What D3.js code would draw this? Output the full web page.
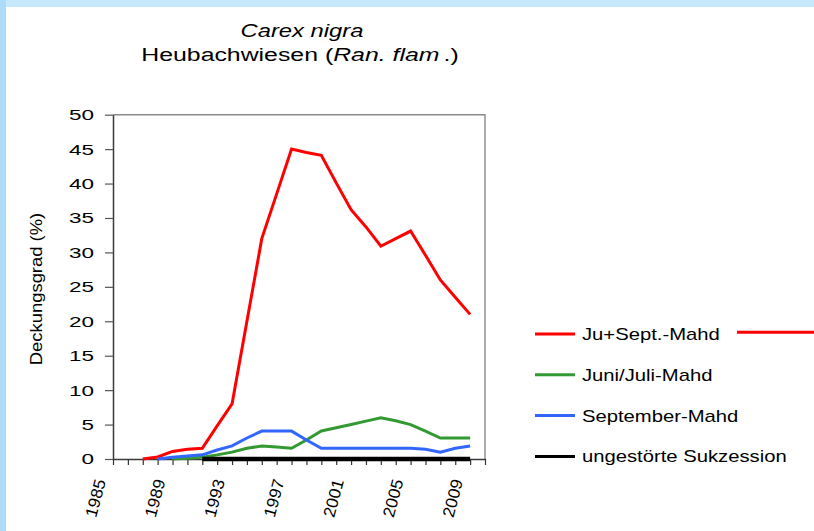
<!DOCTYPE html>
<html>
<head>
<meta charset="utf-8">
<script src="https://cdn.jsdelivr.net/npm/d3@7"></script>
<style>
  body { margin: 0; background: #fff; }
  svg { display: block; font-family: "Liberation Sans", Arial, sans-serif; }
</style>
</head>
<body>
<svg width="814" height="531"></svg>
<script>
// categories (years) and series values, null = no record
const years = [1985, 1986, 1987, 1988, 1989, 1990, 1991, 1992, 1993, 1994, 1995, 1996, 1997,
               1998, 1999, 2000, 2001, 2002, 2003, 2004, 2005, 2006, 2007, 2008, 2009, 2010];
const yearLabels = [1985, 1989, 1993, 1997, 2001, 2005, 2009];
const yTicks = [0, 5, 10, 15, 20, 25, 30, 35, 40, 45, 50];

const juSeptMahd = [null, null, 0, 0.3, 1.1, 1.4, 1.55, 4.8, 8, 20, 32, 38.5, 45,
                    44.5, 44.1, 40.1, 36.2, 33.7, 30.9, 32, 33.1, 29.6, 26, 23.5, 21, null];
const juniJuliMahd = [null, null, null, null, 0, 0.1, 0.25, 0.6, 1.0, 1.55, 1.9, 1.75, 1.55,
                      2.75, 4.07, 4.55, 5, 5.5, 6, 5.55, 5, 4.05, 3.05, 3.05, 3.05, null];
const septemberMahd = [null, null, null, 0, 0.25, 0.45, 0.6, 1.3, 1.9, 3.05, 4.05, 4.05, 4.05,
                       2.75, 1.55, 1.55, 1.55, 1.55, 1.55, 1.55, 1.55, 1.4, 1.0, 1.55, 1.9, null];
const sukzession = [null, null, null, null, null, null, 0, 0, 0, 0, 0, 0, 0,
                    0, 0, 0, 0, 0, 0, 0, 0, 0, 0, 0, 0, null];

const seriesNames = ["Ju+Sept.-Mahd", "Juni/Juli-Mahd", "September-Mahd", "ungestörte Sukzession"];
const seriesValues = [juSeptMahd, juniJuliMahd, septemberMahd, sukzession];
const seriesColors = ["#ff0000", "#339933", "#3366ff", "#000000"];
const seriesWidths = [3, 3, 3, 4.5];

const svg = d3.select("svg");

// page frame (light blue strips top/left)
svg.append("rect").attr("x", 0).attr("y", 0).attr("width", 814).attr("height", 531).attr("fill", "#fff");
svg.append("rect").attr("x", 0).attr("y", 0).attr("width", 814).attr("height", 7).attr("fill", "#c6e8fb");
svg.append("rect").attr("x", 0).attr("y", 0).attr("width", 6).attr("height", 531).attr("fill", "#acdcf8");

// widen text horizontally like the original picture
function stretch(sel, k) {
  sel.each(function () {
    const w = this.getComputedTextLength();
    d3.select(this).attr("textLength", w * k).attr("lengthAdjust", "spacingAndGlyphs");
  });
}

const plot = { left: 113, right: 485, top: 114.7, bottom: 459 };

const x = d3.scalePoint().domain(years).range([plot.left, plot.right]);
const y = d3.scaleLinear().domain([0, 50]).range([plot.bottom, plot.top]);

// title
const t1 = svg.append("text")
  .attr("x", 302).attr("y", 37)
  .attr("text-anchor", "middle")
  .attr("font-size", 18).attr("font-style", "italic")
  .text("Carex nigra");
stretch(t1, 1.32);

const t2 = svg.append("g").attr("transform", "translate(300,61) scale(1.38,1)")
  .append("text")
  .attr("text-anchor", "middle")
  .attr("font-size", 18);
t2.append("tspan").text("Heubachwiesen (");
t2.append("tspan").attr("font-style", "italic").text("Ran. flam");
t2.append("tspan").attr("dx", 3).text(".)");

// frame top/right
svg.append("path")
  .attr("d", `M${plot.left},${plot.top}H${plot.right}V${plot.bottom}`)
  .attr("fill", "none").attr("stroke", "#8a8a8a").attr("stroke-width", 1.4);

// y axis
const yAxis = svg.append("g")
  .attr("transform", `translate(${plot.left},0)`)
  .call(d3.axisLeft(y).tickValues(yTicks).tickSize(8).tickSizeOuter(0).tickPadding(11));
yAxis.select(".domain").attr("stroke", "#3a3a3a").attr("stroke-width", 1.5);
yAxis.selectAll(".tick line").attr("stroke", "#555").attr("stroke-width", 1.2);
yAxis.selectAll(".tick text")
  .attr("font-size", 15.5).attr("fill", "#000")
  .attr("font-family", "Liberation Sans, Arial, sans-serif");
stretch(yAxis.selectAll(".tick text"), 1.45);

// x axis
const xAxis = svg.append("g")
  .attr("transform", `translate(0,${plot.bottom})`)
  .call(d3.axisBottom(x).tickSize(6).tickSizeOuter(0).tickFormat(""));
xAxis.select(".domain").attr("stroke", "#3a3a3a").attr("stroke-width", 1.5);
xAxis.selectAll(".tick line").attr("stroke", "#333").attr("stroke-width", 1.2);

const xl = svg.append("g").selectAll("text")
  .data(yearLabels)
  .join("text")
  .attr("transform", d => `translate(${x(d) - 7},481) rotate(-75)`)
  .attr("text-anchor", "end")
  .attr("font-size", 16.5)
  .text(d => d);
stretch(xl, 1.05);

// y axis title
const yt = svg.append("text")
  .attr("transform", "translate(42,289) rotate(-90)")
  .attr("text-anchor", "middle")
  .attr("font-size", 16)
  .text("Deckungsgrad (%)");
stretch(yt, 1.15);

// series lines
const line = d3.line()
  .defined(d => d.v != null)
  .x(d => x(d.year))
  .y(d => y(d.v));

seriesValues.forEach((vals, i) => {
  svg.append("path")
    .datum(vals.map((v, j) => ({ year: years[j], v: v })))
    .attr("fill", "none")
    .attr("stroke", seriesColors[i])
    .attr("stroke-width", seriesWidths[i])
    .attr("stroke-linejoin", "miter")
    .attr("d", line);
});

// legend
const legend = svg.append("g").selectAll("g")
  .data(seriesNames)
  .join("g")
  .attr("transform", (d, i) => `translate(535,${334 + i * 40.8})`);
legend.append("line")
  .attr("x1", 0).attr("x2", 40).attr("y1", 0).attr("y2", 0)
  .attr("stroke", (d, i) => seriesColors[i])
  .attr("stroke-width", 3);
const lt = legend.append("text")
  .attr("x", 47).attr("y", 6)
  .attr("font-size", 17)
  .text(d => d);
stretch(lt, 1.19);

// stray red legend stroke at the right edge
svg.append("line")
  .attr("x1", 737).attr("x2", 814).attr("y1", 332.3).attr("y2", 332.3)
  .attr("stroke", seriesColors[0]).attr("stroke-width", 3);
</script>
</body>
</html>
